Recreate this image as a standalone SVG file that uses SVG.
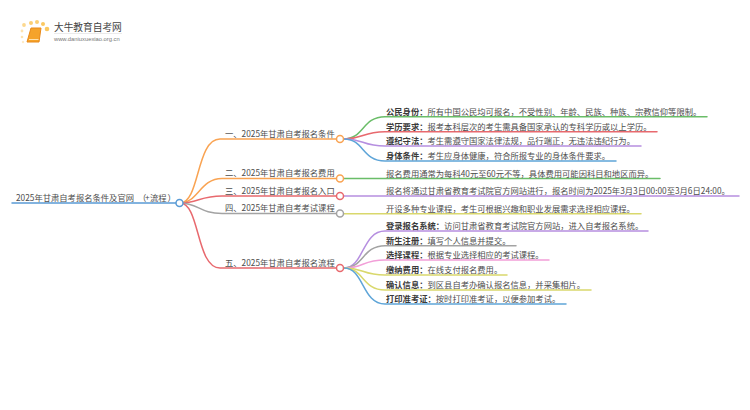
<svg xmlns="http://www.w3.org/2000/svg" width="750" height="410" viewBox="0 0 750 410">
<style>
text{font-family:"Noto Sans CJK SC","Liberation Sans",sans-serif;font-size:8.3px;fill:#4d4d4d;text-spacing-trim:space-all;font-feature-settings:"halt" 0,"palt" 0}
.b{font-weight:700;fill:#3a3a3a}
.c{fill:none;stroke-width:1.5;stroke-linecap:round}
.n{fill:#fff;stroke-width:1.5}
.blue{stroke:#5a9bd5}.or{stroke:#f9a352}.red{stroke:#e8696e}.gr{stroke:#a3a3a3}.grn{stroke:#6abd68}.pu{stroke:#b68fe0}.ye{stroke:#d9d86c}.pk{stroke:#f29fd8}.bl2{stroke:#5fa5d8}
</style>
<g id="logo">
<circle cx="22" cy="31" r="1.4" fill="#fde3b0"/><circle cx="22" cy="37" r="1.3" fill="#fde3b0"/><circle cx="23" cy="42" r="1.2" fill="#fdebc8"/><circle cx="24" cy="25" r="1.900" fill="#fcd88f"/><circle cx="31" cy="23" r="2" fill="#fbcf75"/><circle cx="37" cy="22" r="2" fill="#fbcf75"/><circle cx="43" cy="24" r="2" fill="#fbc860"/><circle cx="47" cy="29" r="2.300" fill="#fbc860"/>
<path d="M31 28H41L39 42H27Z" fill="#f5a32a" stroke="#e8891a" stroke-linejoin="round"/><path d="M29 39.500H38.500" stroke="#ffe2ae" stroke-width="1"/>
<text x="54" y="31" style="font-size:9.7px;fill:#444">大牛教育自考网</text>
<path d="M54 33.500H122" stroke="#ddd" stroke-width=".6"/>
<text x="54" y="41" style="font-size:5.800px;fill:#777;font-family:'Liberation Sans',sans-serif">www.daniuxuexiao.org.cn</text>
</g>
<g id="connectors">
<path class="c blue" d="M12 203H176"/>
<path class="c or" d="M180 203C200 203 196 139 220 139H336"/>
<path class="c or" d="M180 203C198 203 200 178.500 222 178.500H336"/>
<path class="c red" d="M180 203C198 203 200 196 222 196H336"/>
<path class="c gr" d="M180 203C198 203 200 213.500 222 213.500H336"/>
<path class="c red" d="M180 203C200 203 196 268 220 268H336"/>
<path class="c grn" d="M344 139C364 139 362 116.700 385 116.700H707"/>
<path class="c red" d="M344 139C364 139 362 131.700 385 131.700H657"/>
<path class="c pu" d="M344 139C364 139 362 146 385 146H641"/>
<path class="c bl2" d="M344 139C364 139 362 161 385 161H616"/>
<path class="c grn" d="M344 178.500H660"/>
<path class="c pu" d="M344 196H739"/>
<path class="c ye" d="M344 213.700H641"/>
<path class="c pu" d="M344 268C364 268 362 231 385 231H648"/>
<path class="c gr" d="M344 268C364 268 362 245.700 385 245.700H516"/>
<path class="c pk" d="M344 268C364 268 362 260 385 260H549"/>
<path class="c ye" d="M344 268C364 268 362 275 385 275H507"/>
<path class="c ye" d="M344 268C364 268 362 290 385 290H591"/>
<path class="c bl2" d="M344 268C364 268 362 304 385 304H566"/>
</g>
<g id="root"><text x="16" y="200.500">2025年甘肃自考报名条件及官网<tspan x="138">（</tspan><tspan x="145">+</tspan><tspan x="150">流程</tspan><tspan x="167.500">）</tspan></text><circle class="n blue" cx="179.500" cy="203" r="3.500"/></g>
<g id="b1"><text x="225" y="136.500">一、2025年甘肃自考报名条件</text><circle class="n or" cx="340" cy="139" r="3.500"/></g>
<g id="b2"><text x="225" y="176">二、2025年甘肃自考报名费用</text><circle class="n or" cx="340" cy="178.500" r="3.500"/></g>
<g id="b3"><text x="225" y="193.500">三、2025年甘肃自考报名入口</text><circle class="n red" cx="340" cy="196" r="3.500"/></g>
<g id="b4"><text x="225" y="211">四、2025年甘肃自考考试课程</text><circle class="n gr" cx="340" cy="213.500" r="3.500"/></g>
<g id="b5"><text x="225" y="265.500">五、2025年甘肃自考报名流程</text><circle class="n red" cx="340" cy="268" r="3.500"/></g>
<g id="l1"><text x="386" y="114.500"><tspan class="b">公民身份：</tspan>所有中国公民均可报名，不受性别、年龄、民族、种族、宗教信仰等限制。</text></g>
<g id="l2"><text x="386" y="129.500"><tspan class="b">学历要求：</tspan>报考本科层次的考生需具备国家承认的专科学历或以上学历。</text></g>
<g id="l3"><text x="386" y="144"><tspan class="b">遵纪守法：</tspan>考生需遵守国家法律法规，品行端正，无违法违纪行为。</text></g>
<g id="l4"><text x="386" y="159"><tspan class="b">身体条件：</tspan>考生应身体健康，符合所报专业的身体条件要求。</text></g>
<g id="l5"><text x="386" y="176.500">报名费用通常为每科40元至60元不等，具体费用可能因科目和地区而异。</text></g>
<g id="l6"><text x="386" y="193.500">报名将通过甘肃省教育考试院官方网站进行，报名时间为2025年3月3日00:00至3月6日24:00。</text></g>
<g id="l7"><text x="386" y="211.500">开设多种专业课程，考生可根据兴趣和职业发展需求选择相应课程。</text></g>
<g id="l8"><text x="386" y="229"><tspan class="b">登录报名系统：</tspan>访问甘肃省教育考试院官方网站，进入自考报名系统。</text></g>
<g id="l9"><text x="386" y="243.500"><tspan class="b">新生注册：</tspan>填写个人信息并提交。</text></g>
<g id="l10"><text x="386" y="258"><tspan class="b">选择课程：</tspan>根据专业选择相应的考试课程。</text></g>
<g id="l11"><text x="386" y="273"><tspan class="b">缴纳费用：</tspan>在线支付报名费用。</text></g>
<g id="l12"><text x="386" y="288"><tspan class="b">确认信息：</tspan>到区县自考办确认报名信息，并采集相片。</text></g>
<g id="l13"><text x="386" y="302"><tspan class="b">打印准考证：</tspan>按时打印准考证，以便参加考试。</text></g>
</svg>
